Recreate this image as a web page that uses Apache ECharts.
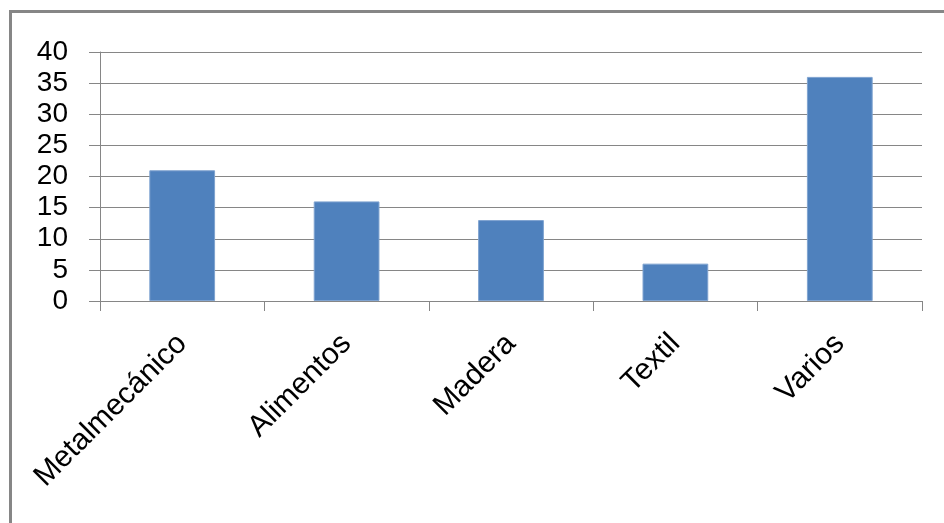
<!DOCTYPE html>
<html><head><meta charset="utf-8">
<script src="https://cdn.jsdelivr.net/npm/echarts@6/dist/echarts.min.js"></script>
<style>html,body{margin:0;padding:0;background:#fff}#c{width:944px;height:523px}</style>
</head><body><div id="c"></div>
<script>
const categories = ["Metalmecánico", "Alimentos", "Madera", "Textil", "Varios"];
const values = [21, 16, 13, 6, 36];
const yTicks = [0, 5, 10, 15, 20, 25, 30, 35, 40];

const chart = echarts.init(document.getElementById('c'));
const lineColor = '#868686';
chart.setOption({
  animation: false,
  graphic: [{
    type: 'rect', shape: {x: 10.5, y: 11.5, width: 960, height: 540},
    style: {fill: 'none', stroke: '#868686', lineWidth: 3}
  }],
  grid: {left: 100, right: 22, top: 52, bottom: 222},
  xAxis: {
    type: 'category', data: categories,
    axisLine: {lineStyle: {color: lineColor}},
    axisTick: {show: true, length: 10, lineStyle: {color: lineColor}},
    axisLabel: {rotate: 45, fontFamily: 'Liberation Sans', fontSize: 30, color: '#000', margin: 38}
  },
  yAxis: {
    type: 'value', min: yTicks[0], max: yTicks[yTicks.length - 1], interval: 5,
    axisLine: {show: true, lineStyle: {color: lineColor}},
    axisTick: {show: true, length: 11, lineStyle: {color: lineColor}},
    splitLine: {lineStyle: {color: lineColor}},
    axisLabel: {fontFamily: 'Liberation Sans', fontSize: 28, color: '#000', margin: 32}
  },
  series: [{
    type: 'bar', data: values, barCategoryGap: '60%',
    itemStyle: {color: '#4F81BD', borderColor: '#7FA3D0', borderWidth: 1}
  }]
});
</script></body></html>
